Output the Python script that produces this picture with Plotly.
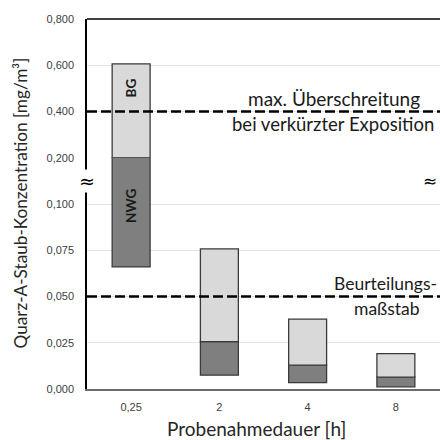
import plotly.graph_objects as go

# Sampling durations (h) and measured concentration ranges (mg/m³)
durations = ["0,25", "2", "4", "8"]
nwg_low = [0.066, 0.0075, 0.0035, 0.0012]
nwg = [0.200, 0.0256, 0.0129, 0.0064]
bg = [0.606, 0.0757, 0.0378, 0.0191]

limit_short = 0.4   # max. exceedance for shortened exposure
limit_ref = 0.05    # assessment benchmark

lower_ticks = [0, 0.025, 0.05, 0.075, 0.1]
upper_ticks = [0.2, 0.4, 0.6, 0.8]

DARK = "#7f7f7f"
LIGHT = "#d9d9d9"
EDGE = "#3a3a3a"
GRID = "#e4e4e4"
TICK_FONT = dict(family="Liberation Sans, Arial", size=11, color="#404040")
TEXT_FONT = "Lato, Open Sans, sans-serif"

SPLIT = 0.625  # share of plot height used by the lower (fine) scale

fig = go.Figure()

# the same bars go into both axis segments; each segment clips its range
for xa, ya in (("x", "y"), ("x2", "y2")):
    fig.add_trace(go.Bar(
        x=durations, y=[n - l for n, l in zip(nwg, nwg_low)], base=nwg_low,
        width=0.43, marker=dict(color=DARK, line=dict(color=EDGE, width=1.3)),
        xaxis=xa, yaxis=ya, showlegend=False, hoverinfo="skip"))
    fig.add_trace(go.Bar(
        x=durations, y=[b - n for b, n in zip(bg, nwg)], base=nwg,
        width=0.43, marker=dict(color=LIGHT, line=dict(color=EDGE, width=1.3)),
        xaxis=xa, yaxis=ya, showlegend=False, hoverinfo="skip"))

axis_common = dict(showline=True, linecolor="black", linewidth=1.5,
                   showgrid=True, gridcolor=GRID, gridwidth=1, zeroline=False,
                   tickfont=TICK_FONT, tickformat=".3f", ticks="",
                   ticklabelstandoff=9)

fig.update_layout(
    width=440, height=440,
    margin=dict(l=87, r=0, t=19, b=51),
    paper_bgcolor="white", plot_bgcolor="white",
    barmode="overlay",
    separators=",.",
    xaxis=dict(domain=[0, 1], anchor="y", showline=True, linecolor="#6a6a6a",
               linewidth=2, showgrid=False, tickfont=TICK_FONT, ticks="",
               ticklabelstandoff=7),
    xaxis2=dict(domain=[0, 1], anchor="y2", matches="x", visible=False),
    yaxis=dict(domain=[0, SPLIT], range=[0, 0.125], tickvals=lower_ticks,
               anchor="x", **axis_common),
    yaxis2=dict(domain=[SPLIT, 1], range=[0.2, 0.8], tickvals=upper_ticks,
                anchor="x2", **axis_common),
)

# top frame line
fig.add_shape(type="line", xref="paper", yref="paper", x0=0, x1=1, y0=1, y1=1,
              line=dict(color="black", width=1.5))

# limit lines
fig.add_shape(type="line", xref="x2 domain", yref="y2", x0=0, x1=1,
              y0=limit_short, y1=limit_short,
              line=dict(color="black", width=2.5, dash="10px,4px"))
fig.add_shape(type="line", xref="x domain", yref="y", x0=0, x1=1,
              y0=limit_ref, y1=limit_ref,
              line=dict(color="black", width=2.5, dash="10px,4px"))


def note(text, x, y, yref, yshift, size=18.5, **kw):
    fig.add_annotation(xref="paper", yref=yref, x=x, y=y, yshift=yshift,
                       xanchor="center", yanchor="middle", text=text,
                       showarrow=False,
                       font=dict(family=TEXT_FONT, size=size, color="#1a1a1a"), **kw)


note("max. Überschreitung", 0.70, limit_short, "y2", 13, size=19)
note("bei verkürzter Exposition", 0.698, limit_short, "y2", -12, size=18.5)
note("Beurteilungs-", 0.847, limit_ref, "y", 13, size=17.5)
note("maßstab", 0.849, limit_ref, "y", -12, size=17.5)

# segment labels inside the first bar
fig.add_annotation(xref="x2", yref="y2", x=durations[0], y=0.50, text="<b>BG</b>",
                   textangle=-90, showarrow=False,
                   font=dict(family=TEXT_FONT, size=13.5, color="#1a1a1a"))
fig.add_annotation(xref="x", yref="y", x=durations[0], y=0.099, text="<b>NWG</b>",
                   textangle=-90, showarrow=False,
                   font=dict(family=TEXT_FONT, size=13.5, color="#1a1a1a"))

# axis-break marks (left one masks the axis line)
break_y = (389 - 181) / 370
fig.add_annotation(xref="paper", yref="paper", x=0, y=break_y,
                   xanchor="center", yanchor="middle",
                   text="≈", showarrow=False, bgcolor="white", borderpad=0,
                   font=dict(family="DejaVu Sans", size=19, color="black"))
fig.add_annotation(xref="paper", yref="paper", x=1, y=break_y, xshift=-2,
                   xanchor="right", yanchor="middle",
                   text="≈", showarrow=False, borderpad=0,
                   font=dict(family="DejaVu Sans", size=17, color="black"))

# axis titles
fig.add_annotation(xref="paper", yref="paper", x=0, xshift=-67, y=(389 - 203.5) / 370,
                   xanchor="center", yanchor="middle",
                   text="Quarz-A-Staub-Konzentration [mg/m³]", textangle=-90,
                   showarrow=False, font=dict(family=TEXT_FONT, size=17.2, color="#262626"))
fig.add_annotation(xref="paper", yref="paper", x=(256.7 - 87) / 353, y=0, yshift=-39,
                   xanchor="center", yanchor="middle",
                   text="Probenahmedauer [h]", showarrow=False,
                   font=dict(family=TEXT_FONT, size=19, color="#262626"))

fig.write_html("out.html")
